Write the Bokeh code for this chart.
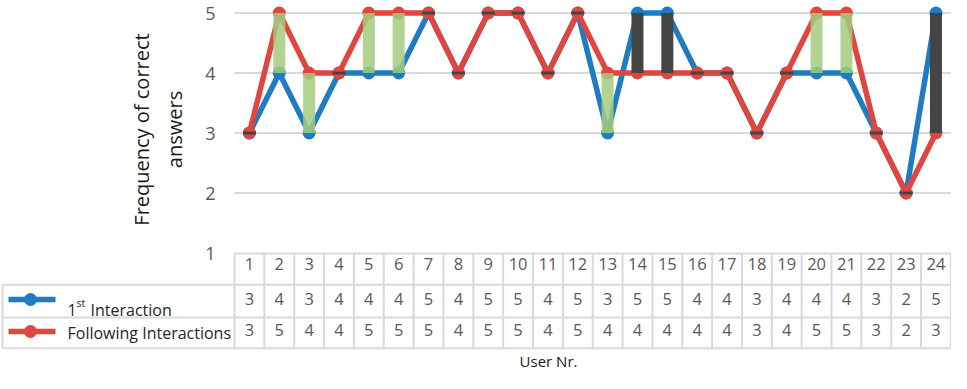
from bokeh.plotting import figure
from bokeh.models import Range1d
from bokeh.core.properties import value
from bokeh.embed import file_html
from bokeh.resources import INLINE

# ---------------- data ----------------
users = list(range(1, 25))
first_interaction = [3, 4, 3, 4, 4, 4, 5, 4, 5, 5, 4, 5, 3, 5, 5, 4, 4, 3, 4, 4, 4, 3, 2, 5]
following_interactions = [3, 5, 4, 4, 5, 5, 5, 4, 5, 5, 4, 5, 4, 4, 4, 4, 4, 3, 4, 5, 5, 3, 2, 3]
y_ticks = [1, 2, 3, 4, 5]
grid_values = [2, 3, 4, 5]
x_title = "User Nr."
y_title_lines = ["Frequency of correct", "answers"]

# ---------------- layout constants (pixels) ----------------
W, H = 951, 373
TABLE_LEFT = 234.0
COL_W = 29.85
Y5_PX = 12.5
UNIT_PX = 60.0
FONT = "Open Sans"

BLUE = "#1f7bc2"
RED = "#e0463f"
GREEN = "#a3cd7f"
DARK = "#444444"
GRID = "#d9d9d9"
GRAY_TXT = "#595959"


def xd(px):
    return 0.5 + (px - TABLE_LEFT) / COL_W


def yd(py):
    return 5 - (py - Y5_PX) / UNIT_PX


p = figure(width=W, height=H, x_range=Range1d(xd(0), xd(W)), y_range=Range1d(yd(H), yd(0)),
           output_backend="svg", toolbar_location=None, x_axis_location=None, y_axis_location=None,
           min_border=0, min_border_left=0, min_border_right=0, min_border_top=0, min_border_bottom=0)
p.grid.visible = False
p.outline_line_color = None
p.background_fill_color = "white"
p.border_fill_color = "white"

n = len(users)
x_left = 0.5
x_right = n + 0.5

# gridlines
p.segment(x0=[x_left] * len(grid_values), x1=[x_right] * len(grid_values), y0=grid_values, y1=grid_values,
          line_color=GRID, line_width=2)

# y tick labels
p.text(x=[xd(210)] * len(y_ticks), y=y_ticks, text=[str(t) for t in y_ticks], text_font=value(FONT),
       text_font_size="18px", text_color=GRAY_TXT, text_align="center", text_baseline="middle")

# y title
p.text(x=[xd(141), xd(174)], y=[yd(129), yd(129)], text=y_title_lines, angle=1.5708,
       text_font=value(FONT), text_font_size="20px", text_color="#1a1a1a",
       text_align="center", text_baseline="middle")

# series lines & markers
p.line(users, first_interaction, line_color=BLUE, line_width=5.5)
p.scatter(users, first_interaction, size=13, fill_color=BLUE, line_color=None)
p.line(users, following_interactions, line_color=RED, line_width=5.5)
p.scatter(users, following_interactions, size=13, fill_color=RED, line_color=None)

# up / down bars
up_x = [u for u, a, b in zip(users, first_interaction, following_interactions) if b > a]
up_lo = [a for a, b in zip(first_interaction, following_interactions) if b > a]
up_hi = [b for a, b in zip(first_interaction, following_interactions) if b > a]
dn_x = [u for u, a, b in zip(users, first_interaction, following_interactions) if b < a]
dn_lo = [b for a, b in zip(first_interaction, following_interactions) if b < a]
dn_hi = [a for a, b in zip(first_interaction, following_interactions) if b < a]
eq_x = [u for u, a, b in zip(users, first_interaction, following_interactions) if b == a]
eq_y = [a for a, b in zip(first_interaction, following_interactions) if b == a]

bar_w = 12 / COL_W
p.vbar(x=up_x, bottom=up_lo, top=up_hi, width=bar_w, fill_color=GREEN, fill_alpha=0.85, line_color=None)
p.vbar(x=dn_x, bottom=dn_lo, top=dn_hi, width=bar_w, fill_color=DARK, line_color=None)
p.rect(x=eq_x, y=eq_y, width=13, height=3, width_units="screen", height_units="screen",
       fill_color=DARK, line_color=None)

# ---------------- data table ----------------
row_top = [253.0, 284.3, 317.0]
row_bot = 347.7
table_right = TABLE_LEFT + n * COL_W
legend_left = 2.0

# horizontal lines
p.segment(x0=[x_left], x1=[xd(table_right)], y0=[yd(row_top[0])], y1=[yd(row_top[0])], line_color=GRID, line_width=2)
for ry in row_top[1:] + [row_bot]:
    p.segment(x0=[xd(legend_left)], x1=[xd(table_right)], y0=[yd(ry)], y1=[yd(ry)], line_color=GRID, line_width=2)
# vertical lines
vx = [x_left + k for k in range(n + 1)]
p.segment(x0=vx, x1=vx, y0=[yd(row_top[0])] * len(vx), y1=[yd(row_bot)] * len(vx), line_color=GRID, line_width=2)
p.segment(x0=[xd(legend_left)], x1=[xd(legend_left)], y0=[yd(row_top[1])], y1=[yd(row_bot)], line_color=GRID, line_width=2)

# table text
row_centers = [263.0, 298.0, 329.0]
for vals, rc in zip([users, first_interaction, following_interactions], row_centers):
    p.text(x=users, y=[yd(rc)] * n, text=[str(v) for v in vals], text_font=value(FONT),
           text_font_size="16.5px", text_color=GRAY_TXT, text_align="center", text_baseline="middle")

# legend keys
for col, ly in [(BLUE, 299.0), (RED, 331.0)]:
    p.line([xd(8), xd(55)], [yd(ly), yd(ly)], line_color=col, line_width=5.5)
    p.scatter([xd(30)], [yd(ly)], size=13, fill_color=col, line_color=None)

# legend labels
p.text(x=[xd(67)], y=[yd(309)], text=["1"], text_font=value(FONT), text_font_size="16px",
       text_color="#262626", text_align="left", text_baseline="alphabetic")
p.text(x=[xd(76)], y=[yd(302)], text=["st"], text_font=value(FONT), text_font_size="10.5px",
       text_color="#262626", text_align="left", text_baseline="alphabetic")
p.text(x=[xd(90)], y=[yd(309)], text=["Interaction"], text_font=value(FONT), text_font_size="16px",
       text_color="#262626", text_align="left", text_baseline="alphabetic")
p.text(x=[xd(67)], y=[yd(332)], text=["Following Interactions"], text_font=value(FONT), text_font_size="16px",
       text_color="#262626", text_align="left", text_baseline="alphabetic")

# x title
p.text(x=[xd(548)], y=[yd(360)], text=[x_title], text_font=value(FONT), text_font_size="15px",
       text_color="#1a1a1a", text_align="center", text_baseline="middle")

open("out.html", "w").write(file_html(p, INLINE))
